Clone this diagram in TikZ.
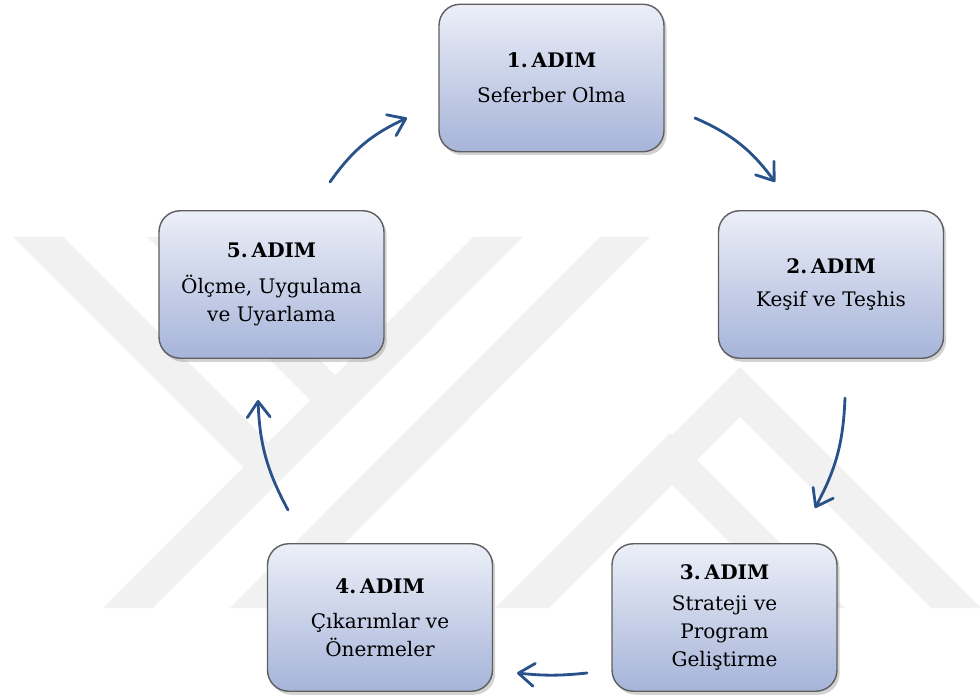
\documentclass[tikz,border=0pt]{standalone}
\usepackage{fontspec}
\setmainfont{DejaVu Serif}
\usetikzlibrary{arrows.meta,shadows}
\definecolor{arrowblue}{RGB}{42,82,138}
\definecolor{boxtop}{RGB}{236,239,248}
\definecolor{boxbot}{RGB}{166,180,217}
\definecolor{boxline}{RGB}{95,95,95}
\definecolor{wmark}{RGB}{241,241,241}
\newcommand{\steptitle}[1]{\textbf{#1.\hspace{0.2em}ADIM}}
\tikzset{
  stepbox/.style={draw=boxline, line width=0.8pt, rounded corners=12pt,
    minimum width=4.5cm, minimum height=2.95cm, inner sep=0pt,
    top color=boxtop, bottom color=boxbot, align=center,
    font=\fontsize{11.4}{15.8}\selectfont,
    drop shadow={opacity=0.35, shadow xshift=1.5pt, shadow yshift=-2pt}},
  flow/.style={draw=arrowblue, line width=1.6pt, line cap=round,
    -{Straight Barb[length=9pt,width=13pt,round]}},
  band/.style={fill=wmark, draw=none}
}
\begin{document}
\begin{tikzpicture}[x=0.02cm,y=-0.02cm]
\useasboundingbox (0,0) rectangle (980,699);
% watermark (approximate)
\begin{scope}
\clip (0,237) rectangle (980,608);
\fill[band] (13,237) -- (63,237) -- (293,467) -- (243,467) -- cycle;
\fill[band] (147,237) -- (197,237) -- (335,375) -- (310,400) -- cycle;
\fill[band] (473,237) -- (523,237) -- (153,608) -- (103,608) -- cycle;
\fill[band] (600,237) -- (650,237) -- (280,608) -- (230,608) -- cycle;
\fill[band] (740,417) -- (931,608) -- (981,608) -- (765,392) -- (740,367) -- (499,608) -- (549,608) -- cycle;
\fill[band] (670,483) -- (795,608) -- (845,608) -- (670,433) -- (495,608) -- (545,608) -- cycle;
\end{scope}
\node[stepbox] (n1) at (551.5,78)  {\steptitle{1}\\[4pt]Seferber Olma};
\node[stepbox] (n2) at (831,284.5) {\steptitle{2}\\[3pt]Keşif ve Teşhis};
\node[stepbox] (n3) at (724.5,617.5) {\steptitle{3}\\[2pt]Strateji ve\\Program\\Geliştirme};
\node[stepbox] (n4) at (380,617.5) {\steptitle{4}\\[4pt]Çıkarımlar ve\\Önermeler};
\node[stepbox] (n5) at (271.5,284.5) {\steptitle{5}\\[5pt]Ölçme, Uygulama\\ve Uyarlama};
\coordinate (a12s) at (695,118);  \coordinate (a12e) at (775,182);
\coordinate (a23s) at (845,398);  \coordinate (a23e) at (815,508);
\coordinate (a34s) at (587,673);  \coordinate (a34e) at (517,673);
\coordinate (a45s) at (288,510);  \coordinate (a45e) at (258,400);
\coordinate (a51s) at (330,182);  \coordinate (a51e) at (407,118);
\draw[flow] (a12s) to[bend left=15] (a12e);
\draw[flow] (a23s) to[bend left=13] (a23e);
\draw[flow] (a34s) to[bend left=6] (a34e);
\draw[flow] (a45s) to[bend left=13] (a45e);
\draw[flow] (a51s) to[bend left=15] (a51e);
\end{tikzpicture}
\end{document}
